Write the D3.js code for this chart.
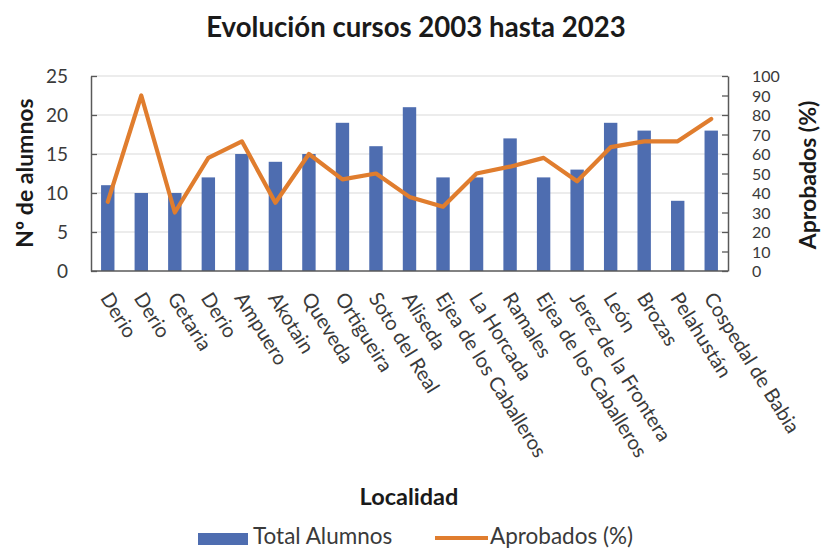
<!DOCTYPE html>
<html><head><meta charset="utf-8">
<script src="https://cdn.jsdelivr.net/npm/d3@7"></script>
<style>
body{margin:0;background:#fff;}
svg{display:block;font-family:Lato, "Open Sans", sans-serif;}
</style></head>
<body><svg id="c" width="823" height="549"></svg>
<script>
const categories = ["Derio","Derio","Getaria","Derio","Ampuero","Akotain","Queveda","Ortigueira","Soto del Real","Aliseda","Ejea de los Caballeros","La Horcada","Ramales","Ejea de los Caballeros","Jerez de la Frontera","León","Brozas","Pelahustán","Cospedal de Babia"];
const totalAlumnos = [11,10,10,12,15,14,15,19,16,21,12,12,17,12,13,19,18,9,18];
const aprobados = [35.5,90,30,58,66.5,35,60,47,50,38,33,50,53.5,58,46,63.5,66.5,66.5,78];
const leftTicks = [0,5,10,15,20,25];
const rightTicks = [0,10,20,30,40,50,60,70,80,90,100];

const svg = d3.select("#c");
const L = 91, R = 728, T = 76, B = 271;
const xc = d3.scaleBand().domain(d3.range(categories.length)).range([L, R]);
const yL = d3.scaleLinear().domain([0,25]).range([B, T]);
const yR = d3.scaleLinear().domain([0,100]).range([B, T]);
const textCol = "#3a3a3a";
const darkCol = "#1a1a1a";

// title
svg.append("text").attr("x", 416).attr("y", 37).attr("text-anchor","middle")
  .attr("font-size", 27.6).attr("font-weight", 700).attr("fill", darkCol)
  .text("Evolución cursos 2003 hasta 2023");

// gridlines
svg.append("g").selectAll("line").data(leftTicks.slice(1)).join("line")
  .attr("x1", L).attr("x2", R).attr("y1", d=>yL(d)).attr("y2", d=>yL(d))
  .attr("stroke", "#d9d9d9").attr("stroke-width", 1);

// bars
svg.append("g").selectAll("rect").data(totalAlumnos).join("rect")
  .attr("x", (d,i)=>xc(i)+xc.bandwidth()/2-6.7).attr("width", 13.4)
  .attr("y", d=>yL(d)).attr("height", d=>B-yL(d))
  .attr("fill", "#4e6db0");

// line
const line = d3.line().x((d,i)=>xc(i)+xc.bandwidth()/2).y(d=>yR(d));
svg.append("path").datum(aprobados).attr("d", line)
  .attr("fill","none").attr("stroke","#e07d2e").attr("stroke-width",4.2)
  .attr("stroke-linejoin","round").attr("stroke-linecap","round");

// left axis
const gL = svg.append("g").attr("transform", `translate(${L},0)`)
  .call(d3.axisLeft(yL).tickValues(leftTicks).tickSizeInner(-6).tickSizeOuter(0));
gL.select(".domain").attr("stroke","#595959").attr("stroke-width",1.5);
gL.selectAll(".tick line").attr("stroke","#595959").attr("stroke-width",1.3);
gL.selectAll(".tick text").attr("font-size",19).attr("fill",textCol).attr("font-family","Lato, sans-serif")
  .attr("x",-23).attr("dy","0.36em");

// right axis
const gR = svg.append("g").attr("transform", `translate(${R},0)`)
  .call(d3.axisRight(yR).tickValues(rightTicks).tickSizeInner(-6).tickSizeOuter(0));
gR.select(".domain").attr("stroke","#595959").attr("stroke-width",1.5);
gR.selectAll(".tick line").attr("stroke","#595959").attr("stroke-width",1.3);
gR.selectAll(".tick text").attr("font-size",16).attr("fill",textCol).attr("font-family","Lato, sans-serif")
  .attr("text-anchor","start").attr("x",24).attr("dy","0.36em");

// bottom axis line
svg.append("line").attr("x1", L).attr("x2", R).attr("y1", B).attr("y2", B)
  .attr("stroke","#595959").attr("stroke-width",1.5);

// x labels
svg.append("g").selectAll("text").data(categories).join("text")
  .attr("transform", (d,i)=>`translate(${xc(i)+xc.bandwidth()/2-8},298) rotate(58)`)
  .attr("font-size", 20).attr("fill", textCol).text(d=>d);

// axis titles
svg.append("text").attr("transform","translate(33,173) rotate(-90)").attr("text-anchor","middle")
  .attr("font-size",23).attr("font-weight",700).attr("fill",darkCol).text("Nº de alumnos");
svg.append("text").attr("transform","translate(816,175) rotate(-90)").attr("text-anchor","middle")
  .attr("font-size",23).attr("font-weight",700).attr("fill",darkCol).text("Aprobados (%)");
svg.append("text").attr("x",409).attr("y",505).attr("text-anchor","middle")
  .attr("font-size",23.5).attr("font-weight",700).attr("fill",darkCol).text("Localidad");

// legend
const lg = svg.append("g");
lg.append("rect").attr("x",198).attr("y",533).attr("width",50).attr("height",12).attr("fill","#4e6db0");
lg.append("text").attr("x",253).attr("y",544).attr("font-size",22.5).attr("fill",textCol).text("Total Alumnos");
lg.append("line").attr("x1",435).attr("x2",488).attr("y1",538).attr("y2",538).attr("stroke","#e07d2e").attr("stroke-width",4);
lg.append("text").attr("x",490).attr("y",544).attr("font-size",22.5).attr("fill",textCol).text("Aprobados (%)");
</script></body></html>
